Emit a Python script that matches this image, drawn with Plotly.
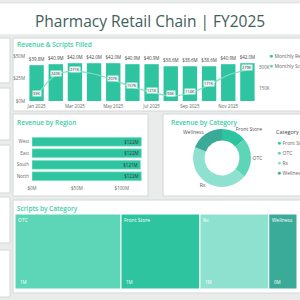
import plotly.graph_objects as go

# ---------------- data ----------------
months = ["Jan 2025", "Feb 2025", "Mar 2025", "Apr 2025", "May 2025", "Jun 2025",
          "Jul 2025", "Aug 2025", "Sep 2025", "Oct 2025", "Nov 2025", "Dec 2025"]
month_ticks = ["Jan 2025", "Mar 2025", "May 2025", "Jul 2025", "Sep 2025", "Nov 2025"]
revenue_m = [39.8, 40.9, 42.0, 42.0, 42.0, 40.9, 40.9, 38.6, 38.6, 38.6, 40.9, 42.0]
scripts_k = [93, 243, 271, 250, 207, 157, 121, 93, 114, 171, 243, 279]
scripts_label_shown = [True, True, True, False, True, True, True, True, True, True, False, True]
series_names = ["Monthly Revenue", "Monthly Scripts"]

regions = ["North", "South", "East", "West"]
region_rev_m = [122, 121, 122, 122]

categories = ["Front Store", "OTC", "Rx", "Wellness"]
category_rev_m = [68, 108, 220, 93]
category_colors = ["#2ec4a0", "#5dd5b7", "#8fe1cf", "#3aab98"]

tree_categories = ["OTC", "Front Store", "Rx", "Wellness"]
tree_scripts_k = [878, 654, 570, 234]
tree_colors = ["#5dd5b7", "#2ec4a0", "#8fe1cf", "#3aab98"]

W = H = 300
FONT = "Open Sans"
TEAL = "#2ec4a0"
LINE_COL = "#7fdec6"
TITLE_TEAL = "#3ccda4"


def px(x):
    return x / W


def py(y):
    return 1 - y / H


fig = go.Figure()

# ---------- Revenue & Scripts ----------
fig.add_trace(go.Bar(
    x=months, y=revenue_m, marker=dict(color=TEAL, line=dict(width=0)),
    text=[f"${v:.1f}M" for v in revenue_m], textposition="outside",
    textfont=dict(size=4.5, color="#444"), cliponaxis=False, constraintext="none",
    xaxis="x", yaxis="y", showlegend=False, name=series_names[0]))
fig.add_trace(go.Scatter(
    x=months, y=scripts_k, mode="lines", line=dict(color=LINE_COL, width=1.2, shape="spline"),
    xaxis="x", yaxis="y2", showlegend=False, name=series_names[1]))
for m, v, s in zip(months, scripts_k, scripts_label_shown):
    if s:
        fig.add_annotation(x=m, y=v, xref="x", yref="y2", text=f"{v}K", showarrow=False,
                           yshift=2, font=dict(size=4, color="#333", family=FONT),
                           bgcolor="rgba(255,255,255,0.9)", borderpad=0)

# ---------- Revenue by Region ----------
fig.add_trace(go.Bar(
    y=regions, x=region_rev_m, orientation="h", width=0.78,
    marker=dict(color=TEAL, line=dict(color="#a8ecd9", width=0.6)),
    text=[f"${v}M" for v in region_rev_m], textposition="inside", insidetextanchor="end",
    constraintext="none",
    textfont=dict(size=4.5, color="#333"), xaxis="x3", yaxis="y3", showlegend=False))

# ---------- Revenue by Category (donut) ----------
fig.add_trace(go.Pie(
    labels=categories, values=category_rev_m, hole=0.6, sort=False, direction="clockwise",
    rotation=0, marker=dict(colors=category_colors, line=dict(width=0)),
    textinfo="label", textposition="outside", textfont=dict(size=5, color="#555"),
    domain=dict(x=[px(193), px(251)], y=[py(187), py(129)]), showlegend=False))

# ---------- Scripts by Category (treemap) ----------
tx0, tx1, ty0, ty1 = 15, 297, 214, 289
fig.add_trace(go.Treemap(
    labels=tree_categories, parents=[""] * len(tree_categories), values=tree_scripts_k,
    sort=False, root_color="rgba(0,0,0,0)",
    marker=dict(colors=tree_colors, line=dict(color="white", width=1),
                pad=dict(t=0, l=0, r=0, b=0)),
    tiling=dict(packing="dice", pad=0), pathbar=dict(visible=False),
    textinfo="label", textposition="top left", textfont=dict(color="white", size=5, family=FONT),
    domain=dict(x=[px(tx0), px(tx1)], y=[py(ty1), py(ty0)])))
total = sum(tree_scripts_k)
cum = 0
for v in tree_scripts_k:
    xf = px(tx0) + (cum / total) * (px(tx1) - px(tx0))
    fig.add_annotation(x=xf, y=py(ty1), xref="paper", yref="paper", xanchor="left",
                       yanchor="bottom", xshift=3, yshift=2, showarrow=False,
                       text=f"{v / 1000:.0f}M", font=dict(size=4.5, color="white", family=FONT))
    cum += v

# ---------- legends as text ----------
def legend_item(x, y, color, label):
    fig.add_annotation(x=px(x), y=py(y), xref="paper", yref="paper", xanchor="left",
                       yanchor="middle", showarrow=False,
                       text=f"<span style='color:{color};font-size:7px'>●</span> {label}",
                       font=dict(size=5, color="#666", family=FONT))

legend_item(267, 55, TEAL, series_names[0])
legend_item(267, 65, "#5dd5b7", series_names[1])
fig.add_annotation(x=px(274), y=py(132), xref="paper", yref="paper", xanchor="left",
                   yanchor="middle", showarrow=False, text="Category",
                   font=dict(size=5.5, color="#444", family=FONT))
for i, (c, col) in enumerate(zip(categories, category_colors)):
    legend_item(275, 142 + 10 * i, col, c)

# ---------- panels ----------
shapes = []
def panel(x0, y0, x1, y1, fill="white", line="#d3d8d6"):
    shapes.append(dict(type="rect", xref="paper", yref="paper", x0=px(x0), x1=px(x1),
                       y0=py(y1), y1=py(y0), fillcolor=fill, line=dict(color=line, width=1),
                       layer="below"))

panel(-5, 3, 305, 35, line="#dfe3e1")
for (a, b) in [(38, 83), (88, 140), (145, 193), (197, 243), (250, 297)]:
    panel(-5, a, 10, b)
panel(13, 38, 305, 111)
panel(13, 114, 148, 196)
panel(163, 114, 305, 196)
panel(13, 200, 305, 293)

ann = [
    ("Pharmacy Retail Chain | FY2025", 150, 21, 15.5, "#3f605b", "center", 400),
    ("Revenue & Scripts Filled", 15, 44, 6.5, TITLE_TEAL, "left", 600),
    ("Revenue by Region", 15, 122, 6.5, TITLE_TEAL, "left", 600),
    ("Revenue by Category", 169, 122, 6.5, TITLE_TEAL, "left", 600),
    ("Scripts by Category", 15, 208, 6.5, TITLE_TEAL, "left", 600),
]
for t, x, y, s, c, xa, wgt in ann:
    fig.add_annotation(x=px(x), y=py(y), xref="paper", yref="paper", text=t, showarrow=False,
                       xanchor=xa, yanchor="middle",
                       font=dict(size=s, color=c, family=FONT, weight=wgt))

axfont = dict(size=4.5, color="#666", family=FONT)
fig.update_layout(
    width=W, height=H, margin=dict(l=0, r=0, t=0, b=0, autoexpand=False),
    paper_bgcolor="#e9ecea", plot_bgcolor="rgba(0,0,0,0)", showlegend=False,
    font=dict(family=FONT), shapes=shapes, bargap=0.25,
    xaxis=dict(domain=[px(27), px(257)], type="category", categoryarray=months,
               tickvals=month_ticks, ticktext=month_ticks, tickfont=axfont, showgrid=False,
               showline=False, ticks="", anchor="y", ticklabelstandoff=1),
    yaxis=dict(domain=[py(101), py(56)], range=[0, 50], tickvals=[0, 25, 50],
               ticktext=["$0M", "$25M", "$50M"], tickfont=axfont, showgrid=False,
               zeroline=False, anchor="x", ticklabelstandoff=1),
    yaxis2=dict(overlaying="y", side="right", range=[57, 379], tickvals=[150, 300],
                ticktext=["150K", "300K"], tickfont=axfont, showgrid=False, zeroline=False,
                anchor="x", ticklabelstandoff=1),
    xaxis3=dict(domain=[px(32), px(146)], range=[0, 127], tickvals=[0, 50, 100],
                ticktext=["$0M", "$50M", "$100M"], tickfont=axfont, showgrid=False,
                zeroline=False, anchor="y3", ticklabelstandoff=2),
    yaxis3=dict(domain=[py(182), py(136)], type="category", categoryarray=regions,
                tickfont=axfont, showgrid=False, anchor="x3", ticklabelstandoff=2),
)
fig.write_html("out.html")
